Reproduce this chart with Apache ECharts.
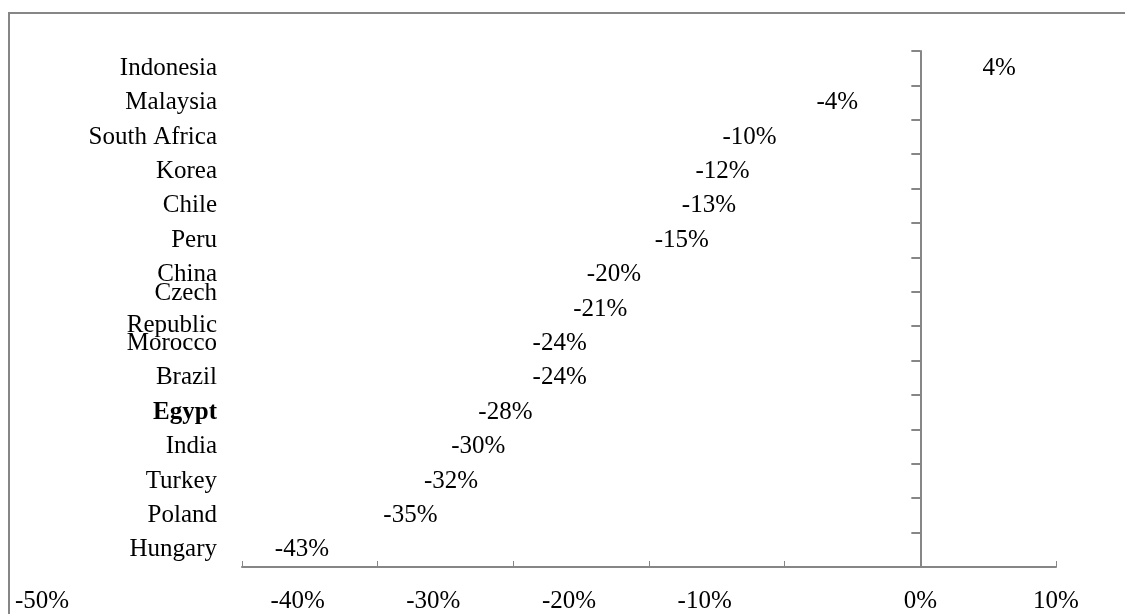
<!DOCTYPE html>
<html>
<head>
<meta charset="utf-8">
<script src="https://cdn.jsdelivr.net/npm/echarts@6/dist/echarts.min.js"></script>
<style>
  html, body { margin: 0; padding: 0; background: #fff; }
  #chart { width: 1125px; height: 614px; }
</style>
</head>
<body>
<div id="chart"></div>
<script>
// datos del grafico (de arriba hacia abajo)
const countries = ['Indonesia', 'Malaysia', 'South Africa', 'Korea', 'Chile', 'Peru', 'China',
    'Czech Republic', 'Morocco', 'Brazil', 'Egypt', 'India', 'Turkey', 'Poland', 'Hungary'];
const changes = [4, -4, -10, -12, -13, -15, -20, -21, -24, -24, -28, -30, -32, -35, -43];
const highlighted = 'Egypt';
const axisMin = -50;
const axisMax = 10;
const axisStep = 10;

const serif = '"Liberation Serif", "DejaVu Serif", serif';
const gray = '#868686';
const fontSize = 25;

const chart = echarts.init(document.getElementById('chart'));

// etiqueta a la izquierda para negativos, a la derecha para positivos
const barData = changes.map(v => ({
    value: v,
    label: { position: v < 0 ? 'left' : 'right' }
}));

const option = {
    animation: false,
    backgroundColor: '#fff',
    graphic: [{
        type: 'rect',
        shape: { x: 9, y: 13, width: 1200, height: 700 },
        style: { fill: 'none', stroke: gray, lineWidth: 2 },
        silent: true
    }],
    grid: { left: 242, right: 69, top: 51, bottom: 46 },
    xAxis: {
        type: 'value',
        min: axisMin,
        max: axisMax,
        interval: axisStep,
        splitLine: { show: false },
        axisLine: { show: true, lineStyle: { color: gray, width: 2 } },
        axisTick: { show: true, inside: true, length: 6, lineStyle: { color: gray, width: 1 } },
        axisLabel: {
            margin: 22,
            formatter: function (v) {
                const txt = v + '%';
                if (v === axisMin) return '{far|' + txt + '}';
                if (v < 0) return '{mid|' + txt + '}';
                return '{n|' + txt + '}';
            },
            rich: {
                n: { fontFamily: serif, fontSize: fontSize, color: '#000' },
                mid: { fontFamily: serif, fontSize: fontSize, color: '#000', padding: [0, 160, 0, 0] },
                far: { fontFamily: serif, fontSize: fontSize, color: '#000', padding: [0, 400, 0, 0] }
            }
        }
    },
    yAxis: [{
        type: 'category',
        data: countries,
        inverse: true,
        position: 'left',
        axisLine: { show: false, onZero: false },
        axisTick: { show: false },
        axisLabel: {
            margin: 25,
            formatter: function (name) {
                const shown = name === 'Czech Republic' ? 'Czech\nRepublic' : name;
                return name === highlighted ? '{b|' + shown + '}' : '{n|' + shown + '}';
            },
            rich: {
                n: { fontFamily: serif, fontSize: fontSize, color: '#000', lineHeight: 32, align: 'right' },
                b: { fontFamily: serif, fontSize: fontSize, color: '#000', fontWeight: 'bold', lineHeight: 32, align: 'right' }
            }
        }
    }, {
        type: 'category',
        data: countries,
        inverse: true,
        position: 'left',
        axisLine: { show: true, onZero: true, lineStyle: { color: gray, width: 2 } },
        axisTick: { show: true, length: 9, lineStyle: { color: gray, width: 2 } },
        axisLabel: { show: false }
    }],
    series: [{
        type: 'bar',
        yAxisIndex: 0,
        data: barData,
        barWidth: '60%',
        itemStyle: { color: 'rgba(0,0,0,0)' },
        label: {
            show: true,
            distance: 8,
            formatter: p => p.value + '%',
            fontFamily: serif,
            fontSize: fontSize,
            color: '#000'
        }
    }]
};

chart.setOption(option);
window.addEventListener('resize', () => chart.resize());
</script>
</body>
</html>
